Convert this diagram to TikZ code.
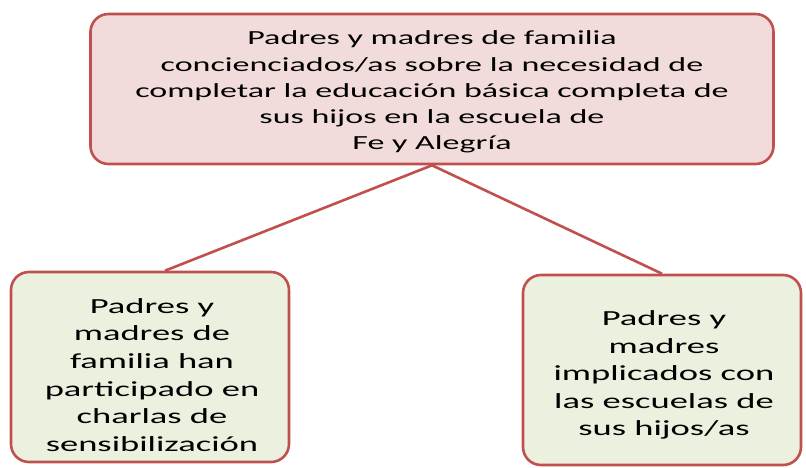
\documentclass[tikz,border=0pt]{standalone}
\usepackage{fontspec}
\setmainfont[FakeStretch=1.7]{Carlito}
\usepackage{tikz}
\usetikzlibrary{arrows}

\definecolor{boxred}{RGB}{192,80,77}
\definecolor{pinkfill}{RGB}{242,220,219}
\definecolor{greenfill}{RGB}{236,241,223}

\begin{document}
\begin{tikzpicture}[
  x = 1pt,
  y = -1pt,
  semithick
  ]

  \tikzstyle{every box}=[
  draw = boxred,
  line width = 2.6pt,
  rounded corners = 18pt,
  align = center,
  inner sep = 0pt
  ]
  \tikzstyle{goal}=[every box, fill = pinkfill, minimum width = 683pt, minimum height = 150pt]
  \tikzstyle{result}=[every box, fill = greenfill, minimum width = 278pt, minimum height = 190pt]
  \tikzstyle{big text}=[align = center, font = \fontsize{20}{26.2}\selectfont]
  \tikzstyle{small text}=[align = center, font = \fontsize{21.5}{27.6}\selectfont]

  \useasboundingbox (0,0) rectangle (806,467);

  \node[goal] (fin) at (432,89) {};
  \node[big text] (fintext) at (432,92) {Padres y madres de familia\\concienciados/as sobre la necesidad de\\completar la educación básica completa de\\sus hijos en la escuela de\\Fe y Alegría};
  \node[result] (charlas) at (150,367) {};
  \node[small text] (charlastext) at (152,375) {Padres y\\madres de\\familia han\\participado en\\charlas de\\sensibilización};
  \node[result] (escuelas) at (662,370) {};
  \node[small text] (escuelastext) at (664,375) {Padres y\\madres\\implicados con\\las escuelas de\\sus hijos/as};

  \path[draw = boxred, line width = 2.6pt] (fin.south) edge ([xshift=15pt]charlas.north);
  \path[draw = boxred, line width = 2.6pt] (fin.south) edge (escuelas.north);

\end{tikzpicture}
\end{document}
